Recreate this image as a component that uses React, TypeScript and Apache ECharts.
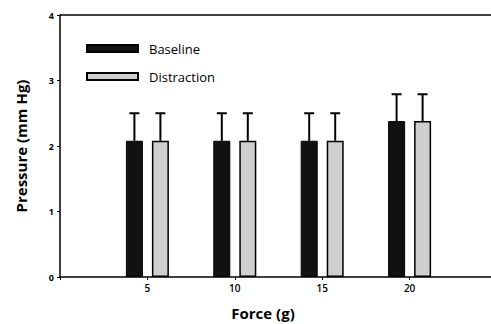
import React, { useEffect, useRef } from "react";
import * as echarts from "echarts";

const forces = [5, 10, 15, 20];
const baseline = [2.08, 2.08, 2.08, 2.38];
const baselineErr = [0.42, 0.42, 0.42, 0.41];
const distraction = [2.08, 2.08, 2.08, 2.38];
const distractionErr = [0.42, 0.42, 0.42, 0.41];
const yTicks = [0, 1, 2, 3, 4];
const xTickLabels = ["5", "10", "15", "20"];

const FONT = "Open Sans";
const BAR_W = 17;
const OFFSET = 13;

function errSeries(name: string, vals: number[], errs: number[], offset: number) {
  return {
    type: "custom",
    name: name + "-err",
    silent: true,
    z: 5,
    clip: false,
    data: forces.map((f, i) => [f, vals[i], vals[i] + errs[i]]),
    renderItem: (params: any, api: any) => {
      const lo = api.coord([api.value(0), api.value(1)]);
      const hi = api.coord([api.value(0), api.value(2)]);
      const x = lo[0] + offset;
      return {
        type: "group",
        children: [
          { type: "line", shape: { x1: x, y1: lo[1], x2: x, y2: hi[1] }, style: { stroke: "#000", lineWidth: 2 } },
          { type: "line", shape: { x1: x - 5, y1: hi[1], x2: x + 5, y2: hi[1] }, style: { stroke: "#000", lineWidth: 2 } },
        ],
      };
    },
  };
}

export default function App() {
  const ref = useRef<HTMLDivElement>(null);
  useEffect(() => {
    const chart = echarts.init(ref.current!, null, { renderer: "svg" });
    chart.setOption({
      animation: false,
      backgroundColor: "#fff",
      grid: { left: 60, top: 15, bottom: 47, width: 437, outerBoundsMode: "none", containLabel: false },
      legend: {
        left: 81,
        top: 37,
        orient: "vertical",
        itemWidth: 51,
        itemHeight: 7,
        itemGap: 15,
        icon: "rect",
        data: ["Baseline", "Distraction"],
        textStyle: { fontFamily: FONT, fontSize: 13, color: "#000", padding: [0, 0, 0, 6] },
      },
      xAxis: {
        type: "value",
        min: 0,
        max: 25,
        interval: 5,
        splitLine: { show: false },
        axisLine: { lineStyle: { color: "#000", width: 1.5 } },
        axisTick: { length: 3, lineStyle: { color: "#000" } },
        axisLabel: {
          fontFamily: FONT,
          fontSize: 10,
          fontWeight: 600,
          color: "#000",
          margin: 6,
          formatter: (v: number) => (xTickLabels.includes(String(v)) ? String(v) : ""),
        },
      },
      yAxis: {
        type: "value",
        min: 0,
        max: 4,
        interval: 1,
        name: "Pressure (mm Hg)",
        nameLocation: "middle",
        nameGap: 32,
        nameTextStyle: { fontFamily: FONT, fontSize: 15, fontWeight: "bold", color: "#000" },
        splitLine: { show: false },
        axisLine: { show: true, lineStyle: { color: "#000", width: 1.5 } },
        axisTick: { show: true, length: 3, lineStyle: { color: "#000" } },
        axisLabel: {
          fontFamily: FONT,
          fontSize: 9,
          fontWeight: "bold",
          color: "#000",
          margin: 6,
          formatter: (v: number) => (yTicks.includes(v) ? String(v) : ""),
        },
      },
      graphic: [
        {
          type: "line",
          shape: { x1: 60, y1: 15, x2: 491, y2: 15 },
          style: { stroke: "#000", lineWidth: 1.5 },
          silent: true,
        },
        {
          type: "text",
          x: 263,
          y: 313,
          style: {
            text: "Force (g)",
            fontFamily: FONT,
            fontSize: 15,
            fontWeight: "bold",
            fill: "#000",
            align: "center",
            verticalAlign: "middle",
          },
        },
      ],
      series: [
        {
          type: "bar",
          name: "Baseline",
          barWidth: BAR_W,
          barGap: "53%",
          data: forces.map((f, i) => [f, baseline[i]]),
          itemStyle: { color: "#111", borderColor: "#000", borderWidth: 1 },
        },
        {
          type: "bar",
          name: "Distraction",
          barWidth: BAR_W,
          barGap: "53%",
          data: forces.map((f, i) => [f, distraction[i]]),
          itemStyle: { color: "#cfcfcf", borderColor: "#000", borderWidth: 1.5 },
        },
        errSeries("Baseline", baseline, baselineErr, -OFFSET),
        errSeries("Distraction", distraction, distractionErr, OFFSET),
      ],
    });
    return () => chart.dispose();
  }, []);
  return <div ref={ref} style={{ position: "fixed", left: 0, top: 0, width: 491, height: 324 }} />;
}
